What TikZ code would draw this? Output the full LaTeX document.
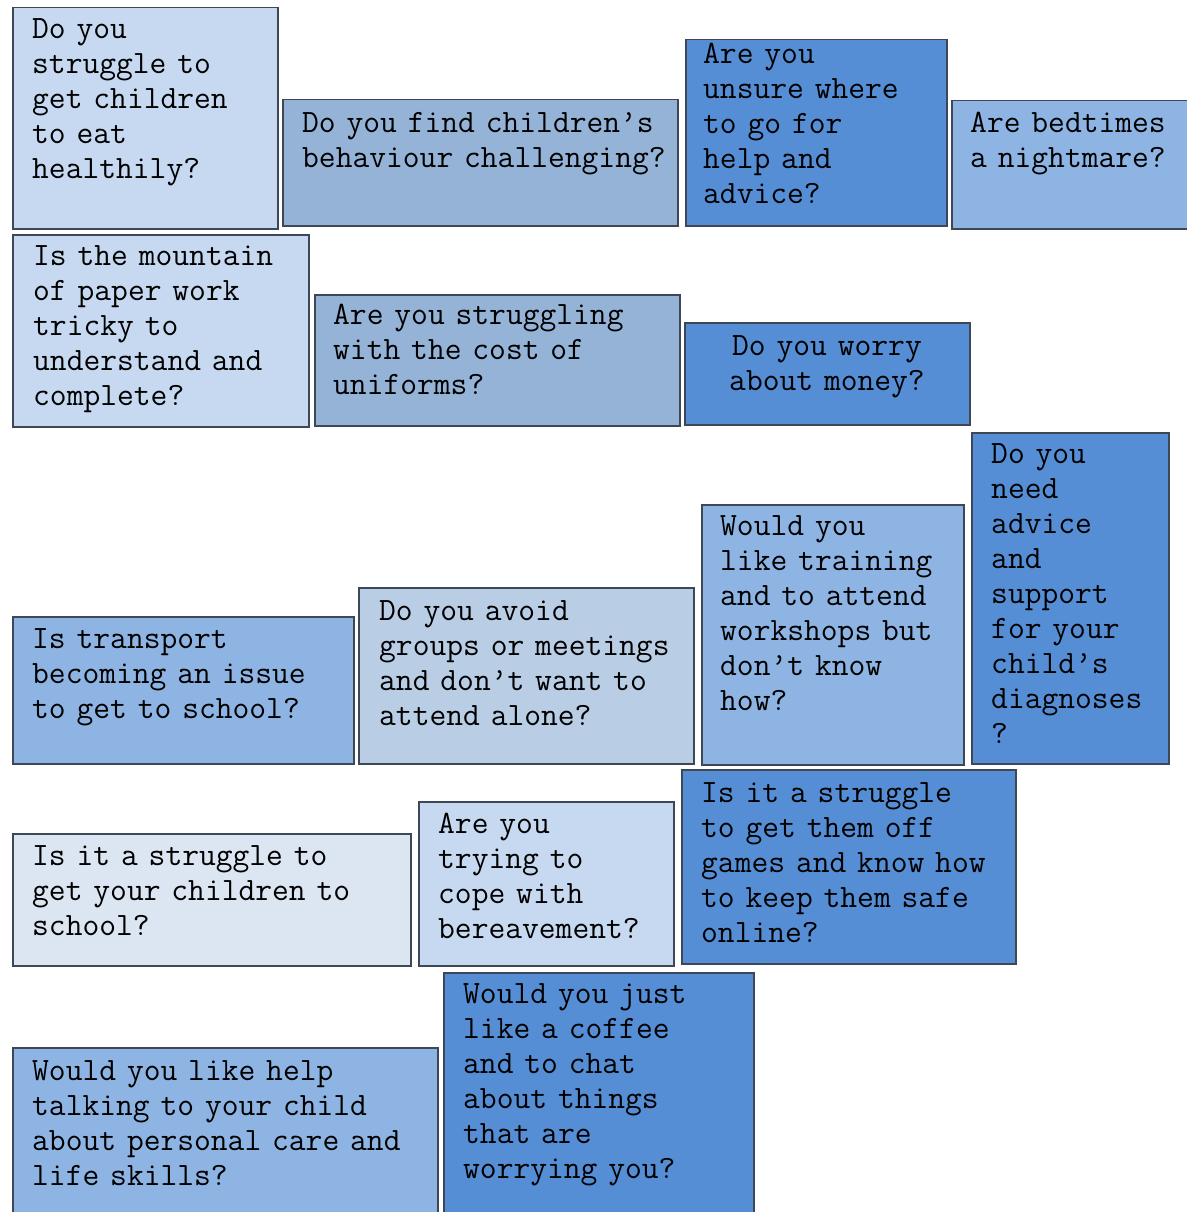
\documentclass[tikz,border=0pt]{standalone}
\usepackage{fontspec}
\usetikzlibrary{shadows}
\definecolor{paleblue}{HTML}{C6D9F0}
\definecolor{palerblue}{HTML}{DCE6F2}
\definecolor{greyblue}{HTML}{95B3D7}
\definecolor{softblue}{HTML}{B9CDE5}
\definecolor{midblue}{HTML}{8EB4E3}
\definecolor{deepblue}{HTML}{558ED5}
\definecolor{edge}{HTML}{3E4756}
\tikzstyle{qbox} = [rectangle, anchor=north west, draw=edge, line width=1.5pt, inner sep=0pt, drop shadow={shadow xshift=1.5pt, shadow yshift=-1.5pt, fill=black!60, opacity=0.45}]
\tikzstyle{qtext} = [anchor=base west, inner sep=0pt, text width=600pt, align=left, font=\ttfamily\fontsize{32.6}{35}\selectfont]

\begin{document}
\begin{tikzpicture}[x=1pt, y=-1pt]
        \useasboundingbox (0,0) rectangle (1186,1212);
        % top row
        \node (eat) [qbox, fill=paleblue, minimum width=265, minimum height=221] at (12,7) {};
        \node (behaviour) [qbox, fill=greyblue, minimum width=395, minimum height=126] at (282,99) {};
        \node (advice) [qbox, fill=deepblue, minimum width=261, minimum height=186] at (685,39) {};
        \node (bedtime) [qbox, fill=midblue, minimum width=240, minimum height=128] at (951,100) {};
        \node (eattxt) [qtext] at (32,39) {Do you\\struggle to\\get children\\to eat\\healthily?};
        \node (behaviourtxt) [qtext] at (302,132) {Do you find children’s\\behaviour challenging?};
        \node (advicetxt) [qtext] at (703,64) {Are you\\unsure where\\to go for\\help and\\advice?};
        \node (bedtimetxt) [qtext] at (970,132) {Are bedtimes\\a nightmare?};
        % second row
        \node (paperwork) [qbox, fill=paleblue, minimum width=296, minimum height=192] at (12,234) {};
        \node (uniform) [qbox, fill=greyblue, minimum width=365, minimum height=131] at (314,294) {};
        \node (money) [qbox, fill=deepblue, minimum width=285, minimum height=102] at (684,322) {};
        \node (paperworktxt) [qtext] at (33,265) {Is the mountain\\of paper work\\tricky to\\understand and\\complete?};
        \node (uniformtxt) [qtext] at (333,324) {Are you struggling\\with the cost of\\uniforms?};
        \node (moneytxt) [qtext, anchor=base, text width=270pt, align=center] at (827,355) {Do you worry\\about money?};
        % third row
        \node (diagnosis) [qbox, fill=deepblue, minimum width=197, minimum height=331] at (971,432) {};
        \node (training) [qbox, fill=midblue, minimum width=262, minimum height=260] at (701,504) {};
        \node (avoid) [qbox, fill=softblue, minimum width=335, minimum height=176] at (358,587) {};
        \node (transport) [qbox, fill=midblue, minimum width=341, minimum height=147] at (12,616) {};
        \node (diagnosistxt) [qtext] at (991,463) {Do you\\need\\advice\\and\\support\\for your\\child’s\\diagnoses\\?};
        \node (trainingtxt) [qtext] at (720,535) {Would you\\like training\\and to attend\\workshops but\\don’t know\\how?};
        \node (avoidtxt) [qtext] at (379,620) {Do you avoid\\groups or meetings\\and don’t want to\\attend alone?};
        \node (transporttxt) [qtext] at (32,648) {Is transport\\becoming an issue\\to get to school?};
        % fourth row
        \node (school) [qbox, fill=palerblue, minimum width=398, minimum height=132] at (12,833) {};
        \node (bereave) [qbox, fill=paleblue, minimum width=255, minimum height=164] at (418,801) {};
        \node (games) [qbox, fill=deepblue, minimum width=334, minimum height=194] at (681,769) {};
        \node (schooltxt) [qtext] at (32,865) {Is it a struggle to\\get your children to\\school?};
        \node (bereavetxt) [qtext] at (438,833) {Are you\\trying to\\cope with\\bereavement?};
        \node (gamestxt) [qtext] at (701,802) {Is it a struggle\\to get them off\\games and know how\\to keep them safe\\online?};
        % bottom row
        \node (coffee) [qbox, fill=deepblue, minimum width=310, minimum height=250] at (443,972) {};
        \node (skills) [qbox, fill=midblue, minimum width=425, minimum height=175] at (12,1047) {};
        \node (coffeetxt) [qtext] at (463,1003) {Would you just\\like a coffee\\and to chat\\about things\\that are\\worrying you?};
        \node (skillstxt) [qtext] at (32,1080) {Would you like help\\talking to your child\\about personal care and\\life skills?};
\end{tikzpicture}
\end{document}
